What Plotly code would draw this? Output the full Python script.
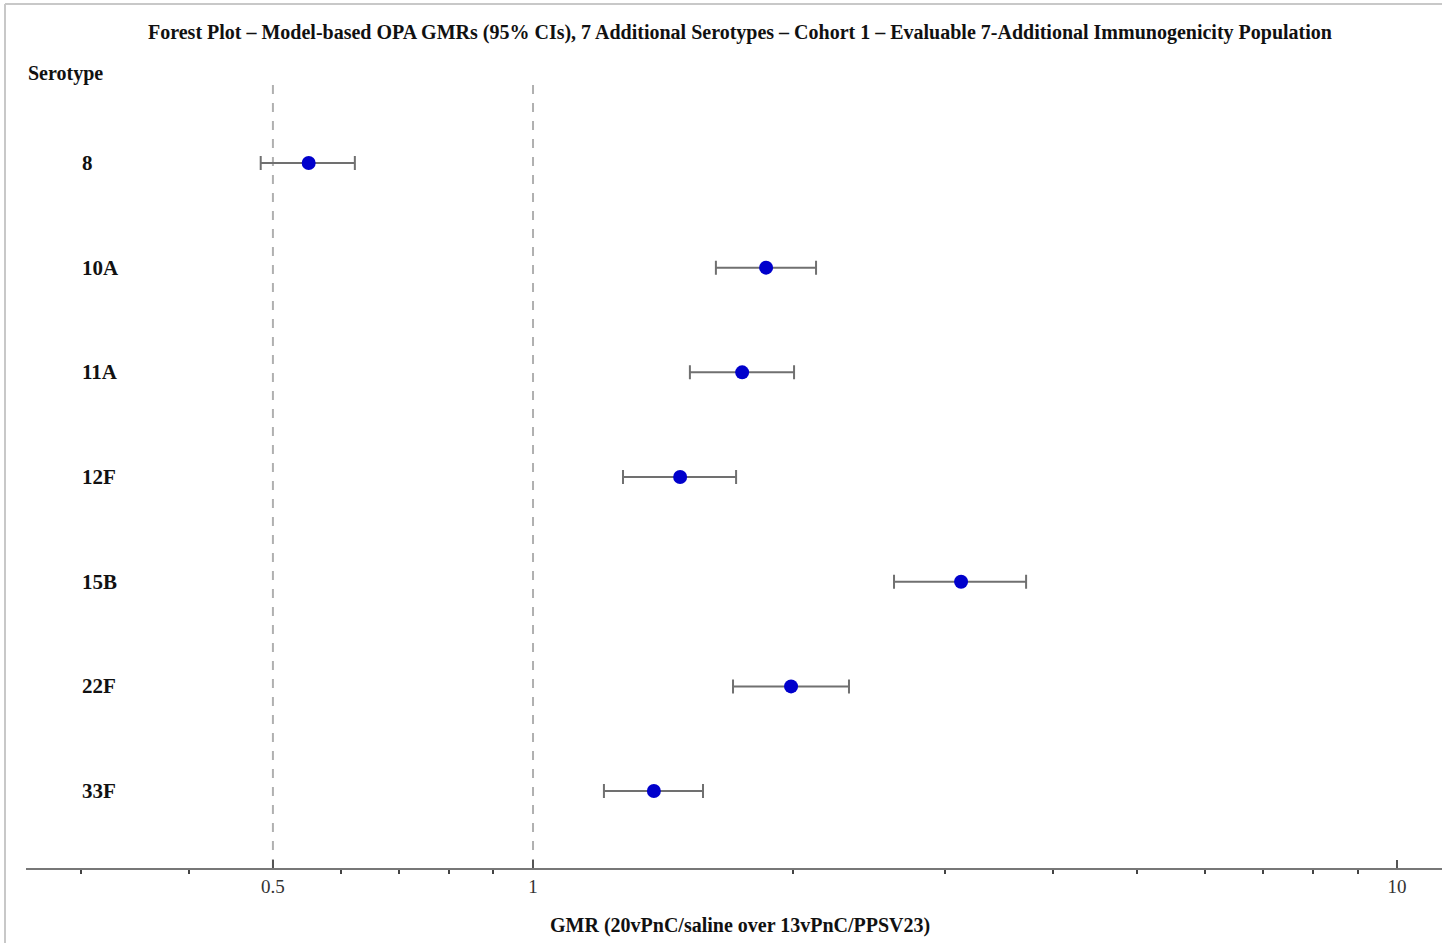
import plotly.graph_objects as go

serotypes = ["8", "10A", "11A", "12F", "15B", "22F", "33F"]
gmr = [0.550, 1.861, 1.746, 1.480, 3.129, 1.989, 1.380]
ci_lower = [0.484, 1.628, 1.519, 1.271, 2.617, 1.704, 1.208]
ci_upper = [0.622, 2.126, 2.005, 1.718, 3.721, 2.321, 1.573]
ref_lines = [0.5, 1]
major_ticks = [0.5, 1, 10]
major_labels = ["0.5", "1", "10"]
minor_ticks = [0.3, 0.4, 0.6, 0.7, 0.8, 0.9, 2, 3, 4, 5, 6, 7, 8, 9]

title = ("Forest Plot \u2013 Model-based OPA GMRs (95% CIs), 7 Additional Serotypes \u2013 "
         "Cohort 1 \u2013 Evaluable 7-Additional Immunogenicity Population")
x_title = "GMR (20vPnC/saline over 13vPnC/PPSV23)"

W, H = 1442, 943
L, R, T, B = 26, 0, 85, 75
pw, ph = W - L - R, H - T - B

FONT = "Liberation Serif"
ypos = list(range(len(serotypes)))
yr = [6.735, -0.745]

fig = go.Figure()
for v in ref_lines:
    fig.add_trace(go.Scatter(x=[v, v], y=[yr[1], yr[0]], mode="lines",
                             line=dict(color="#b0b0b0", width=2, dash="dash"),
                             hoverinfo="skip", showlegend=False))

fig.add_trace(go.Scatter(
    x=gmr, y=ypos, mode="markers",
    marker=dict(color="#0000CC", size=14),
    error_x=dict(type="data", symmetric=False,
                 array=[u - g for u, g in zip(ci_upper, gmr)],
                 arrayminus=[g - l for g, l in zip(gmr, ci_lower)],
                 color="#707070", thickness=2, width=7),
    showlegend=False))

annotations = []
for s, yv in zip(serotypes, ypos):
    annotations.append(dict(text=f"<b>{s}</b>", x=(80 - L) / pw, xref="paper",
                            y=yv, yref="y", xanchor="left", yanchor="middle",
                            showarrow=False, font=dict(family=FONT, size=21, color="#111")))
annotations.append(dict(text="<b>Serotype</b>", x=(26 - L) / pw, xref="paper",
                        y=(H - B - 73) / ph, yref="paper", xanchor="left", yanchor="middle",
                        showarrow=False, font=dict(family=FONT, size=20, color="#111")))
annotations.append(dict(text=f"<b>{x_title}</b>", x=(740 - L) / pw, xref="paper",
                        y=-(925 - (H - B)) / ph, yref="paper", xanchor="center", yanchor="middle",
                        showarrow=False, font=dict(family=FONT, size=20, color="#111")))
annotations.append(dict(text=f"<b>{title}</b>", x=(740 - L) / pw, xref="paper",
                        y=((H - B) - 33) / ph, yref="paper", xanchor="center", yanchor="middle",
                        showarrow=False, font=dict(family=FONT, size=20, color="#111")))

shapes = [
    dict(type="line", xref="paper", yref="paper",
         x0=(5 - L) / pw, x1=(5 - L) / pw, y0=(H - B - 4) / ph, y1=-(B) / ph,
         line=dict(color="#c8c8c8", width=2)),
    dict(type="line", xref="paper", yref="paper",
         x0=(5 - L) / pw, x1=1, y0=(H - B - 4) / ph, y1=(H - B - 4) / ph,
         line=dict(color="#c8c8c8", width=2)),
]

fig.update_layout(
    width=W, height=H,
    margin=dict(l=L, r=R, t=T, b=B, pad=0),
    paper_bgcolor="white", plot_bgcolor="white",
    annotations=annotations, shapes=shapes,
    xaxis=dict(type="log", range=[-0.5868, 1.052],
               tickvals=major_ticks, ticktext=major_labels,
               ticks="inside", ticklen=8, tickwidth=2, tickcolor="#555",
               tickfont=dict(family=FONT, size=19, color="#333"),
               showline=True, linecolor="#777", linewidth=2,
               showgrid=False, zeroline=False,
               minor=dict(tickvals=minor_ticks, ticks="outside", ticklen=4,
                          tickwidth=2, tickcolor="#444", showgrid=False)),
    yaxis=dict(range=yr, visible=False, showgrid=False, zeroline=False),
)

fig.write_html("out.html")
